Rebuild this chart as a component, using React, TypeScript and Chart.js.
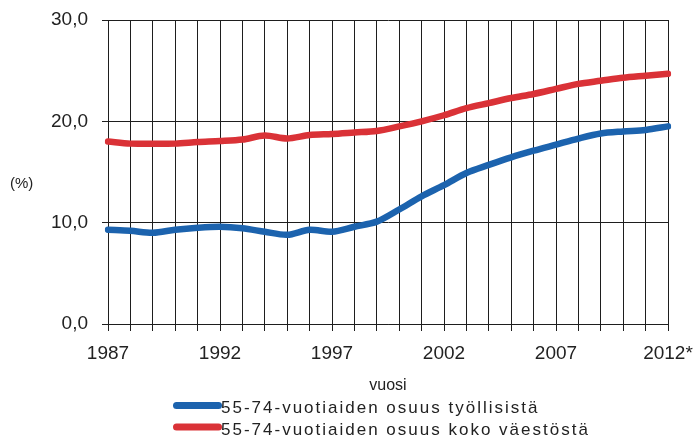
import React, { useEffect, useRef } from "react";
import { Chart, registerables } from "chart.js";

Chart.register(...registerables);

const years = [
  "1987", "1988", "1989", "1990", "1991", "1992", "1993", "1994", "1995",
  "1996", "1997", "1998", "1999", "2000", "2001", "2002", "2003", "2004",
  "2005", "2006", "2007", "2008", "2009", "2010", "2011", "2012*",
];

const employedShare = [
  9.3, 9.2, 9.0, 9.3, 9.5, 9.6, 9.45, 9.1, 8.8, 9.3, 9.1, 9.6, 10.1,
  11.3, 12.6, 13.7, 14.9, 15.7, 16.45, 17.1, 17.7, 18.3, 18.8, 19.0, 19.15, 19.5,
];

const populationShare = [
  18.0, 17.8, 17.8, 17.8, 17.95, 18.05, 18.2, 18.6, 18.3, 18.65, 18.75, 18.9, 19.05,
  19.5, 20.0, 20.6, 21.3, 21.8, 22.3, 22.7, 23.2, 23.7, 24.0, 24.3, 24.5, 24.7,
];

const seriesLabels = [
  "55-74-vuotiaiden osuus työllisistä",
  "55-74-vuotiaiden osuus koko väestöstä",
];

const yTicks = [0, 10, 20, 30];
const xLabelEvery = 5;
const xTitle = "vuosi";
const yUnit = "(%)";

const FONT = '"Liberation Sans", Arial, sans-serif';
const GRID = "#1e1e1e";
const TEXT = "#222";

export default function App() {
  const ref = useRef<HTMLCanvasElement | null>(null);

  useEffect(() => {
    if (!ref.current) return;
    const overlay = {
      id: "overlay",
      afterDraw(chart: any) {
        const ctx = chart.ctx;
        ctx.save();
        ctx.fillStyle = TEXT;
        ctx.font = `15px ${FONT}`;
        ctx.textBaseline = "middle";
        ctx.textAlign = "left";
        ctx.fillText(yUnit, 10, 184);
        ctx.font = `17px ${FONT}`;
        (ctx as any).letterSpacing = "2px";
        chart.data.datasets.forEach((ds: any, i: number) => {
          const yLine = 405.5 + i * 21.5;
          ctx.beginPath();
          ctx.lineCap = "round";
          ctx.lineWidth = 7;
          ctx.strokeStyle = ds.borderColor;
          ctx.moveTo(176.5, yLine);
          ctx.lineTo(218.5, yLine);
          ctx.stroke();
          ctx.fillStyle = TEXT;
          ctx.fillText(ds.label, 221, yLine + 3);
        });
        ctx.restore();
      },
    };

    const chart = new Chart(ref.current, {
      type: "line",
      data: {
        labels: years,
        datasets: [
          {
            label: seriesLabels[0],
            data: employedShare,
            borderColor: "#1c63ae",
            backgroundColor: "#1c63ae",
            borderWidth: 6.5,
            pointRadius: 0,
            tension: 0.3,
            borderCapStyle: "round",
          },
          {
            label: seriesLabels[1],
            data: populationShare,
            borderColor: "#da3237",
            backgroundColor: "#da3237",
            borderWidth: 6.5,
            pointRadius: 0,
            tension: 0.3,
            borderCapStyle: "round",
          },
        ],
      },
      options: {
        responsive: false,
        animation: false,
        layout: { padding: { top: 20, right: 26, bottom: 0, left: 0 } },
        plugins: {
          legend: { display: false },
          tooltip: { enabled: false },
        },
        scales: {
          x: {
            type: "category",
            offset: false,
            grid: { color: GRID, lineWidth: 1, tickLength: 7, drawOnChartArea: true },
            border: { color: GRID },
            ticks: {
              autoSkip: false,
              maxRotation: 0,
              padding: 11,
              color: TEXT,
              font: { family: FONT, size: 19 },
              callback: (_v: any, i: number) => (i % xLabelEvery === 0 ? years[i] : ""),
            },
            title: {
              display: true,
              text: xTitle,
              color: TEXT,
              font: { family: FONT, size: 16 },
              padding: { top: 0, bottom: 44 },
            },
            afterFit: (scale: any) => {
              scale.height = 115;
              scale.paddingLeft = 0;
              scale.paddingRight = 0;
            },
          },
          y: {
            min: 0,
            max: 30,
            afterBuildTicks: (scale: any) => {
              scale.ticks = yTicks.map((v) => ({ value: v }));
            },
            grid: { color: GRID, lineWidth: 1, tickLength: 6 },
            border: { color: GRID },
            ticks: {
              padding: 14,
              color: TEXT,
              font: { family: FONT, size: 19 },
              callback: (v: any) => Number(v).toFixed(1).replace(".", ","),
            },
            afterFit: (scale: any) => {
              scale.width = 108;
              scale.paddingTop = 0;
              scale.paddingBottom = 0;
            },
          },
        },
      },
      plugins: [overlay],
    });
    return () => chart.destroy();
  }, []);

  return (
    <div style={{ position: "fixed", left: 0, top: 0, width: 694, height: 439, background: "#fff" }}>
      <canvas ref={ref} width={694} height={439} style={{ display: "block" }} />
    </div>
  );
}
